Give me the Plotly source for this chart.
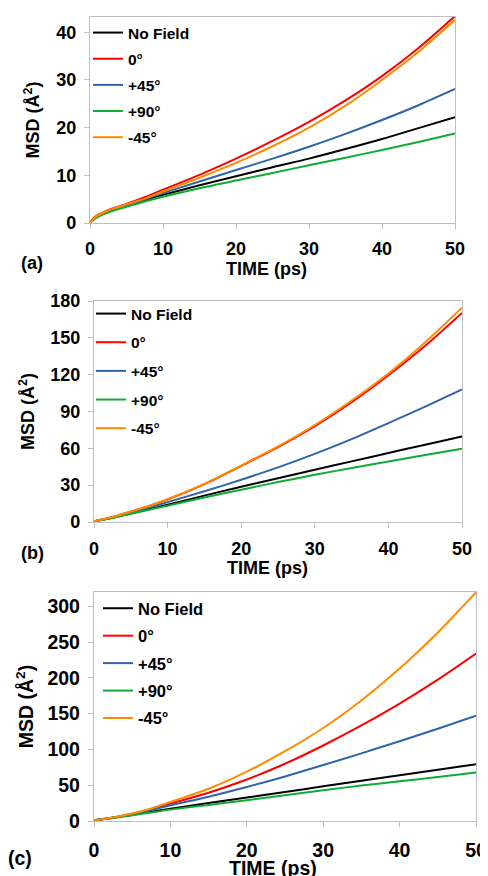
import plotly.graph_objects as go

OFF = 8  # default page body margin
W, H = 488 - OFF, 876 - OFF
FONT = "Liberation Sans, Arial, sans-serif"

series_names = ["No Field", "0°", "+45°", "+90°", "-45°"]
series_colors = ["#000000", "#ff0000", "#2e64a8", "#11aa33", "#ff8c00"]
x_title = "TIME (ps)"
y_title = "MSD (Å<sup>2</sup>)"

# Panel (a)
time_a = [0, 0.5, 1, 2, 3, 5, 7.5, 10, 15, 20, 25, 30, 35, 40, 45, 50]
a_nofield = [0, 0.85, 1.4, 2.1, 2.6, 3.6, 4.8, 5.9, 7.9, 9.8, 11.7, 13.5, 15.5, 17.6, 19.9, 22.2]
a_0 = [0, 1.0, 1.6, 2.4, 3.0, 4.0, 5.4, 7.0, 10.1, 13.5, 17.2, 21.2, 25.7, 30.8, 36.7, 43.4]
a_p45 = [0, 0.85, 1.4, 2.1, 2.7, 3.7, 5.0, 6.3, 8.7, 11.1, 13.5, 16.0, 18.7, 21.6, 24.7, 28.1]
a_p90 = [0, 0.7, 1.2, 1.9, 2.5, 3.4, 4.5, 5.5, 7.3, 8.9, 10.5, 12.1, 13.7, 15.3, 17.0, 18.8]
a_m45 = [0, 0.9, 1.5, 2.3, 2.9, 3.9, 5.1, 6.6, 9.5, 12.6, 16.1, 20.0, 24.6, 30.0, 35.9, 42.6]

# Panel (b)
time_b = [0, 2.5, 5, 7.5, 10, 15, 20, 25, 30, 35, 40, 45, 50]
b_nofield = [0.5, 3.5, 7, 10.5, 14, 21.5, 28.7, 35.6, 42.5, 49.4, 56.2, 63, 69.6]
b_0 = [0.5, 4, 8.5, 13, 18.3, 30.8, 45.7, 61, 78, 97.5, 119.5, 143.5, 170.3]
b_p45 = [0.5, 3.6, 7.5, 11.7, 16.2, 25, 34.4, 44.5, 55.5, 67.5, 80.5, 94, 108]
b_p90 = [0.5, 3.3, 6.7, 10, 13.3, 20, 26.3, 32.5, 38.4, 44, 49.3, 54.5, 59.6]
b_m45 = [0.5, 4, 8.5, 13, 18.5, 31, 46, 61.5, 79, 99, 121, 146.5, 174.6]

# Panel (c)
time_c = [0, 2.5, 5, 7.5, 10, 15, 20, 25, 30, 35, 40, 45, 50]
c_nofield = [1, 4.5, 8.5, 13, 17.3, 25, 32.7, 40.5, 48.4, 56.2, 64, 71.6, 79.3]
c_0 = [1, 5, 10, 16.5, 24.3, 39.5, 58, 80, 105.5, 133.5, 164, 197.5, 234]
c_p45 = [1, 4.8, 9.5, 15.5, 22, 34, 47.5, 62.3, 78.2, 94.5, 111.5, 129, 147]
c_p90 = [1, 4.3, 8, 12, 15.9, 22.5, 29, 36, 43, 49.5, 55.5, 61.5, 67.7]
c_m45 = [1, 5, 10.5, 17.5, 26.6, 45, 69, 97.5, 130, 168.5, 213, 263.5, 319.6]

panels = [
    dict(t=time_a, ys=[a_nofield, a_0, a_p45, a_p90, a_m45], xpx=(90, 455), ypx=(17, 223),
         yrange=[0, 43.2], dtick=10, tick=18, title=18, leg=15.5, label="(a)",
         lab_xy=(32, 263), legxy=(88, 16), gap=3, xstand=4, xt_xy=(266, 269), ystand=11),
    dict(t=time_b, ys=[b_nofield, b_0, b_p45, b_p90, b_m45], xpx=(94, 462), ypx=(301, 522),
         yrange=[0, 180], dtick=30, tick=18, title=18, leg=15.5, label="(b)",
         lab_xy=(32, 553), legxy=(91, 297), gap=5.5, xstand=5, xt_xy=(267, 568), ystand=10),
    dict(t=time_c, ys=[c_nofield, c_0, c_p45, c_p90, c_m45], xpx=(94, 476), ypx=(592, 821),
         yrange=[0, 320], dtick=50, tick=19.5, title=19.5, leg=16.5, label="(c)",
         lab_xy=(20, 858), legxy=(98, 591), gap=3, xstand=6, xt_xy=(273, 868), ystand=8),
]


def fx(px):
    return (px - OFF) / W


def fy(px):
    return 1 - (px - OFF) / H


fig = go.Figure()
annotations = []
layout = dict(width=W, height=H, margin=dict(l=0, r=0, t=0, b=0, autoexpand=False),
              plot_bgcolor="white", paper_bgcolor="white", showlegend=True,
              font=dict(family=FONT, color="#000000"))

for i, p in enumerate(panels):
    n = i + 1
    xa = "x" if n == 1 else f"x{n}"
    ya = "y" if n == 1 else f"y{n}"
    legname = "legend" if n == 1 else f"legend{n}"
    for name, col, y in zip(series_names, series_colors, p["ys"]):
        fig.add_trace(go.Scatter(x=p["t"], y=y, mode="lines", name=name,
                                 line=dict(color=col, width=2, shape="spline", smoothing=0.8),
                                 xaxis=xa, yaxis=ya, legend=legname,
                                 legendgroup=f"{n}-{name}"))
    axis_common = dict(showline=True, linecolor="#bfbfbf", linewidth=1.3, mirror=True,
                       showgrid=False, zeroline=False, ticks="outside", ticklen=5,
                       tickcolor="#bfbfbf", tickwidth=1.3, automargin=False,
                       tickfont=dict(family=FONT, size=p["tick"], color="#000000", weight="bold"))
    layout["xaxis" if n == 1 else f"xaxis{n}"] = dict(
        axis_common, domain=[fx(p["xpx"][0]), fx(p["xpx"][1])], range=[0, 50], dtick=10,
        anchor=ya, ticklabelstandoff=p["xstand"])
    layout["yaxis" if n == 1 else f"yaxis{n}"] = dict(
        axis_common, domain=[fy(p["ypx"][1]), fy(p["ypx"][0])], range=p["yrange"],
        dtick=p["dtick"], anchor=xa, ticklabelstandoff=4,
        title=dict(text=y_title, standoff=p["ystand"],
                   font=dict(family=FONT, size=p["title"], weight="bold")))
    layout[legname] = dict(x=fx(p["legxy"][0]), y=fy(p["legxy"][1]), xanchor="left",
                           yanchor="top", bgcolor="rgba(0,0,0,0)", tracegroupgap=p["gap"],
                           font=dict(family=FONT, size=p["leg"], weight="bold"))
    annotations.append(dict(text=x_title, x=fx(p["xt_xy"][0]), y=fy(p["xt_xy"][1]),
                            xref="paper", yref="paper", showarrow=False, xanchor="center",
                            yanchor="middle",
                            font=dict(family=FONT, size=p["title"], weight="bold")))
    annotations.append(dict(text=p["label"], x=fx(p["lab_xy"][0]), y=fy(p["lab_xy"][1]),
                            xref="paper", yref="paper", showarrow=False, xanchor="center",
                            yanchor="middle",
                            font=dict(family=FONT, size=p["title"], weight="bold")))

layout["annotations"] = annotations
fig.update_layout(**layout)
fig.write_html("out.html")
